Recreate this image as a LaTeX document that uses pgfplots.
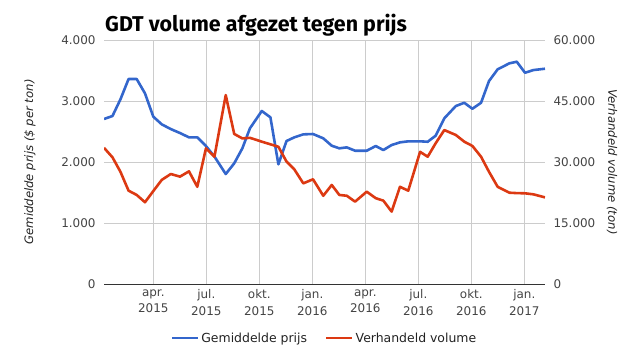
\documentclass[border=0pt]{standalone}
\usepackage{fontspec}
\setmainfont{DejaVu Sans}
\newfontfamily\titlefont{Fira Sans}
\usepackage{pgfplots}
\usepackage{pgfplotstable}
\pgfplotsset{compat=1.18}
\definecolor{gblue}{HTML}{3366CC}
\definecolor{gred}{HTML}{DC3912}
\definecolor{ggrid}{HTML}{CCCCCC}
\definecolor{glab}{HTML}{444444}
\definecolor{gaxis}{HTML}{333333}
\definecolor{gtext}{HTML}{222222}

% x = months since 1 Jan 2015
\pgfplotstableread{
m      price  volume
0.21   2705   33500
0.69   2754   31150
1.14   3027   27600
1.60   3360   22950
2.06   3360   21900
2.53   3125   20100
3.00   2743   22850
3.48   2617   25600
3.99   2540   27050
4.51   2475   26400
5.02   2404   27700
5.49   2404   23900
5.98   2262   33350
6.46   2090   31300
7.10   1803   46450
7.58   1978   36900
8.04   2224   35800
8.47   2552   35950
9.14   2836   35000
9.63   2732   34350
10.08  1962   33750
10.54  2344   30100
10.98  2404   28200
11.49  2453   24750
12.04  2459   25750
12.62  2388   21700
13.10  2267   24350
13.53  2224   21900
13.95  2240   21700
14.42  2185   20250
15.08  2185   22700
15.59  2262   21100
16.02  2196   20500
16.49  2278   17800
16.96  2322   23900
17.43  2339   22950
18.10  2339   32500
18.53  2332   31300
18.98  2431   34600
19.47  2716   37850
20.12  2917   36650
20.60  2971   35000
21.06  2873   33950
21.55  2971   31300
22.00  3327   27600
22.49  3519   23900
23.15  3617   22450
23.57  3644   22350
24.04  3463   22300
24.51  3507   22050
25.17  3529   21300
}\gdtdata

\pgfplotsset{
  common/.style={
    at={(104bp,71bp)}, anchor=south west,
    scale only axis, width=441bp, height=244bp,
    xmin=0.21, xmax=25.17,
    xtick={3,6,9,12,15,18,21,24},
    major tick length=0pt,
    scaled y ticks=false,
    tick label style={font=\fontsize{12}{16.5}\selectfont, text=glab},
  },
}

\begin{document}
\begin{tikzpicture}
\useasboundingbox (0bp,0bp) rectangle (625bp,355bp);
\node[anchor=base west, inner sep=0pt, font=\fontsize{21.5}{24}\selectfont\titlefont\bfseries] at (105bp,323bp) {GDT volume afgezet tegen prijs};
\node[rotate=90, text=gtext, font=\fontsize{11.7}{14}\selectfont\itshape] at (30bp,193bp) {Gemiddelde prijs (\$ per ton)};
\node[rotate=-90, text=gtext, font=\fontsize{11.7}{14}\selectfont\itshape] at (612bp,193bp) {Verhandeld volume (ton)};

\begin{axis}[common,
  ymin=0, ymax=4000,
  ytick={0,1000,2000,3000,4000},
  yticklabels={0,1.000,2.000,3.000,4.000},
  xticklabels={{apr.\\2015},{jul.\\2015},{okt.\\2015},{jan.\\2016},{apr.\\2016},{jul.\\2016},{okt.\\2016},{jan.\\2017}},
  xticklabel style={align=center, yshift=-2bp},
  yticklabel style={xshift=-5bp},
  grid=major, grid style={ggrid, line width=0.8pt},
  axis x line*=bottom, axis y line*=left,
  x axis line style={gaxis, line width=0.9pt, -},
  y axis line style={draw=none},
]
\addplot[gblue, line width=2.6pt, line join=round] table[x=m, y=price] {\gdtdata};
\end{axis}

\begin{axis}[common,
  ymin=0, ymax=60000,
  ytick={0,15000,30000,45000,60000},
  yticklabels={0,15.000,30.000,45.000,60.000},
  axis x line=none,
  axis y line*=right,
  y axis line style={draw=none},
  yticklabel style={xshift=5bp},
  legend style={at={(0.5,-0.222)}, anchor=center, draw=none, fill=none,
    legend columns=2, font=\fontsize{12.5}{15}\selectfont, text=gtext,
    /tikz/every even column/.append style={column sep=16bp}},
  legend image code/.code={\draw[#1, line width=2.6pt] (0bp,0bp) -- (26bp,0bp);},
]
\addlegendimage{gblue}
\addlegendentry{Gemiddelde prijs}
\addplot[gred, line width=2.6pt, line join=round] table[x=m, y=volume] {\gdtdata};
\addlegendentry{Verhandeld volume}
\end{axis}
\end{tikzpicture}
\end{document}
